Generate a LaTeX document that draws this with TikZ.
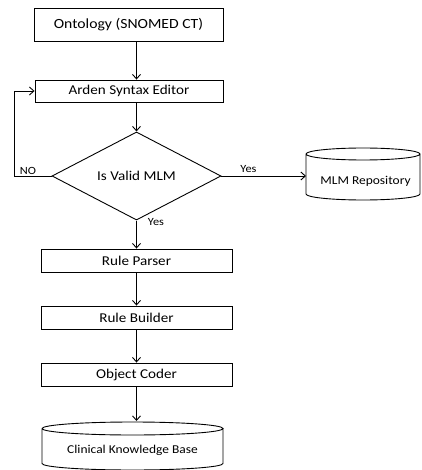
\documentclass[tikz,border=0pt]{standalone}
\usepackage{fontspec}
\setmainfont{Carlito}[FakeStretch=1.12]
\usetikzlibrary{shapes.geometric,arrows.meta}
\begin{document}
\begin{tikzpicture}[x=1pt,y=-1pt,
  line width=0.9pt,
  arr/.style={-{Straight Barb[length=4.5pt,width=8pt,line width=0.9pt]}},
  boxtxt/.style={font=\fontsize{13.5}{15}\selectfont},
  cyltxt/.style={font=\fontsize{12}{14}\selectfont},
  lbl/.style={font=\fontsize{11}{13}\selectfont, inner sep=0pt},
  procbox/.style={draw, rectangle, inner sep=0pt, boxtxt}]
\useasboundingbox (0,0) rectangle (421,470);
% nodes
\node[procbox, minimum width=189pt, minimum height=33pt, font=\fontsize{14}{16}\selectfont] (ont) at (128.5,24.5) {Ontology (SNOMED CT)};
\node[procbox, minimum width=188pt, minimum height=22pt] (arden) at (129,91) {Arden Syntax Editor};
\node[draw, diamond, minimum width=169pt, minimum height=66pt, inner sep=0pt, boxtxt] (dia) at (136.5,176) {Is Valid MLM};
\node[procbox, minimum width=191pt, minimum height=23pt] (parser) at (136.5,260.5) {Rule Parser};
\node[procbox, minimum width=191pt, minimum height=23pt] (builder) at (136.5,317.5) {Rule Builder};
\node[procbox, minimum width=191pt, minimum height=23pt] (coder) at (136.5,374.5) {Object Coder};
% MLM repository cylinder
\draw (306,154) arc[start angle=180, end angle=-180, x radius=57pt, y radius=6pt]
      (306,154) -- (306,194) arc[start angle=180, end angle=360, x radius=57pt, y radius=6pt] -- (420,154);
\node[cyltxt, inner sep=0pt] (repo) at (365.5,181) {MLM Repository};
\coordinate (repoW) at (306,176);
% Clinical KB cylinder
\draw (42,428.5) arc[start angle=180, end angle=-180, x radius=90.5pt, y radius=6.5pt]
      (42,428.5) -- (42,463.5) arc[start angle=180, end angle=360, x radius=90.5pt, y radius=6.5pt] -- (223,428.5);
\node[cyltxt, inner sep=0pt] (kb) at (132.5,450) {Clinical Knowledge Base};
\coordinate (kbtop) at (136.5,421);
% connectors
\draw[arr] (ont.south -| dia.north) -- (arden.north -| dia.north);
\draw[arr] (arden.south -| dia.north) -- (dia.north);
\draw[arr] (dia.south) -- (parser.north);
\draw[arr] (parser.south) -- (builder.north);
\draw[arr] (builder.south) -- (coder.north);
\draw[arr] (coder.south) -- (kbtop);
\draw[arr] (dia.east) -- (repoW);
\coordinate (loop) at (14,176);
\draw[arr] (dia.west) -- (loop) |- (arden.west);
% labels
\node[lbl] (no) at (28,170.5) {NO};
\node[lbl] (yes1) at (248.5,169.5) {Yes};
\node[lbl] (yes2) at (156,222) {Yes};
\end{tikzpicture}
\end{document}
